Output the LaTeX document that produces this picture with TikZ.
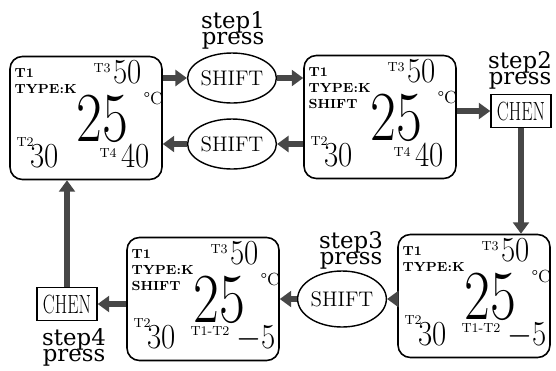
\documentclass[tikz,border=0pt]{standalone}
\usepackage{graphicx}
\usepackage{fontspec}
\newfontfamily\stepfont{DejaVu Serif}
\usetikzlibrary{arrows.meta,shapes.geometric}

\newcommand{\nar}[1]{\scalebox{0.8}[1]{#1}}
\newcommand{\narm}[1]{\scalebox{0.88}[1]{#1}}
% common content of a display, #1 = name of the display node
\newcommand{\lcdbase}[1]{%
  \begin{scope}[shift={(#1.north west)}]
    \node[lcdtag] (#1-t1) at (5,22) {T1};
    \node[lcdtag] (#1-type) at (5,38) {TYPE:K};
    \node[lcdsmall] (#1-t3) at (84,17) {T3};
    \node[lcdmid] (#1-v3) at (104,28) {\narm{50}};
    \node[lcdunit] (#1-unit) at (134,49) {\textdegree C};
    \node[lcdbig] (#1-main) at (67,86) {\nar{25}};
    \node[lcdsmall] (#1-t2) at (7,91) {T2};
    \node[lcdmid] (#1-v2) at (21,112) {\narm{30}};
  \end{scope}}

\tikzset{
  lcd/.style={draw, line width=0.9pt, rounded corners=7pt, minimum width=3.04cm, minimum height=2.46cm, inner sep=0pt},
  shiftkey/.style={draw, line width=0.8pt, ellipse, minimum width=1.16cm, minimum height=1.0cm, inner sep=0pt, font=\fontsize{12}{12}\selectfont},
  chenkey/.style={draw, line width=0.8pt, minimum width=1.2cm, minimum height=0.66cm, inner sep=0pt, font=\fontsize{15}{15}\selectfont},
  steplbl/.style={align=center, inner sep=0pt, font=\stepfont\fontsize{13}{13}\selectfont},
  fat/.style={draw=black!72, line width=3.4pt, -{Triangle[length=6.5pt,width=9pt]}},
  lcdtag/.style={anchor=base west, inner sep=0pt, font=\fontsize{7.5}{7.5}\selectfont\bfseries},
  lcdsmall/.style={anchor=base west, inner sep=0pt, font=\fontsize{7.5}{7.5}\selectfont},
  lcdmid/.style={anchor=base west, inner sep=0pt, font=\fontsize{20}{20}\selectfont},
  lcdbig/.style={anchor=base west, inner sep=0pt, font=\fontsize{40}{40}\selectfont},
  lcdunit/.style={anchor=base west, inner sep=0pt, font=\fontsize{10}{10}\selectfont},
}

\begin{document}
\begin{tikzpicture}[x=0.02cm,y=-0.02cm]
\useasboundingbox (0,0) rectangle (556,370);

% the four displays
\node[lcd] (d1) at (86,118) {};
\node[lcd] (d2) at (380,117) {};
\node[lcd] (d3) at (474,296) {};
\node[lcd] (d4) at (203,299) {};

\lcdbase{d1}
\begin{scope}[shift={(d1.north west)}]
  \node[lcdsmall] (d1-t4) at (90,102) {T4};
  \node[lcdmid] (d1-v4) at (112,112) {\narm{40}};
\end{scope}

\lcdbase{d2}
\begin{scope}[shift={(d2.north west)}]
  \node[lcdtag] (d2-sh) at (5,54) {SHIFT};
  \node[lcdsmall] (d2-t4) at (90,102) {T4};
  \node[lcdmid] (d2-v4) at (112,112) {\narm{40}};
\end{scope}

\lcdbase{d3}
\begin{scope}[shift={(d3.north west)}]
  \node[lcdsmall] (d3-dt) at (64,99) {T1-T2};
  \node[lcdmid] (d3-dv) at (110,112) {\narm{$-$5}};
\end{scope}

\lcdbase{d4}
\begin{scope}[shift={(d4.north west)}]
  \node[lcdtag] (d4-sh) at (5,54) {SHIFT};
  \node[lcdsmall] (d4-dt) at (64,99) {T1-T2};
  \node[lcdmid] (d4-dv) at (110,112) {\narm{$-$5}};
\end{scope}

% keys
\node[shiftkey] (c1) at (232,78) {SHIFT};
\node[shiftkey] (c2) at (232,144) {SHIFT};
\node[shiftkey, minimum height=1.12cm] (c3) at (342,299) {SHIFT};
\node[chenkey] (k2) at (521,111) {\scalebox{0.68}[1]{CHEN}};
\node[chenkey] (k4) at (67,304) {\scalebox{0.68}[1]{CHEN}};

\node[steplbl] (s1) at (233,30) {step1\\[-4pt]press};
\node[steplbl] (s2) at (520,70) {step2\\[-4pt]press};
\node[steplbl] (s3) at (351,250) {step3\\[-4pt]press};
\node[steplbl] (s4) at (74,347) {step4\\[-4pt]press};

% arrows
\draw[fat] (d1.east |- c1) -- (c1.west);
\draw[fat] (c1.east) -- (c1 -| d2.west);
\draw[fat] (d2.west |- c2) -- (c2.east);
\draw[fat] (c2.west) -- (c2 -| d1.east);
\draw[fat] (d2.east |- k2) -- (k2.west);
\draw[fat] (k2.south) -- (k2 |- d3.north);
\draw[fat] (d3.west |- c3) -- (c3.east);
\draw[fat] (c3.west) -- (c3 -| d4.east);
\draw[fat] (d4.west |- k4) -- (k4.east);
\draw[fat] (k4.north) -- (k4 |- d1.south);

\end{tikzpicture}
\end{document}
